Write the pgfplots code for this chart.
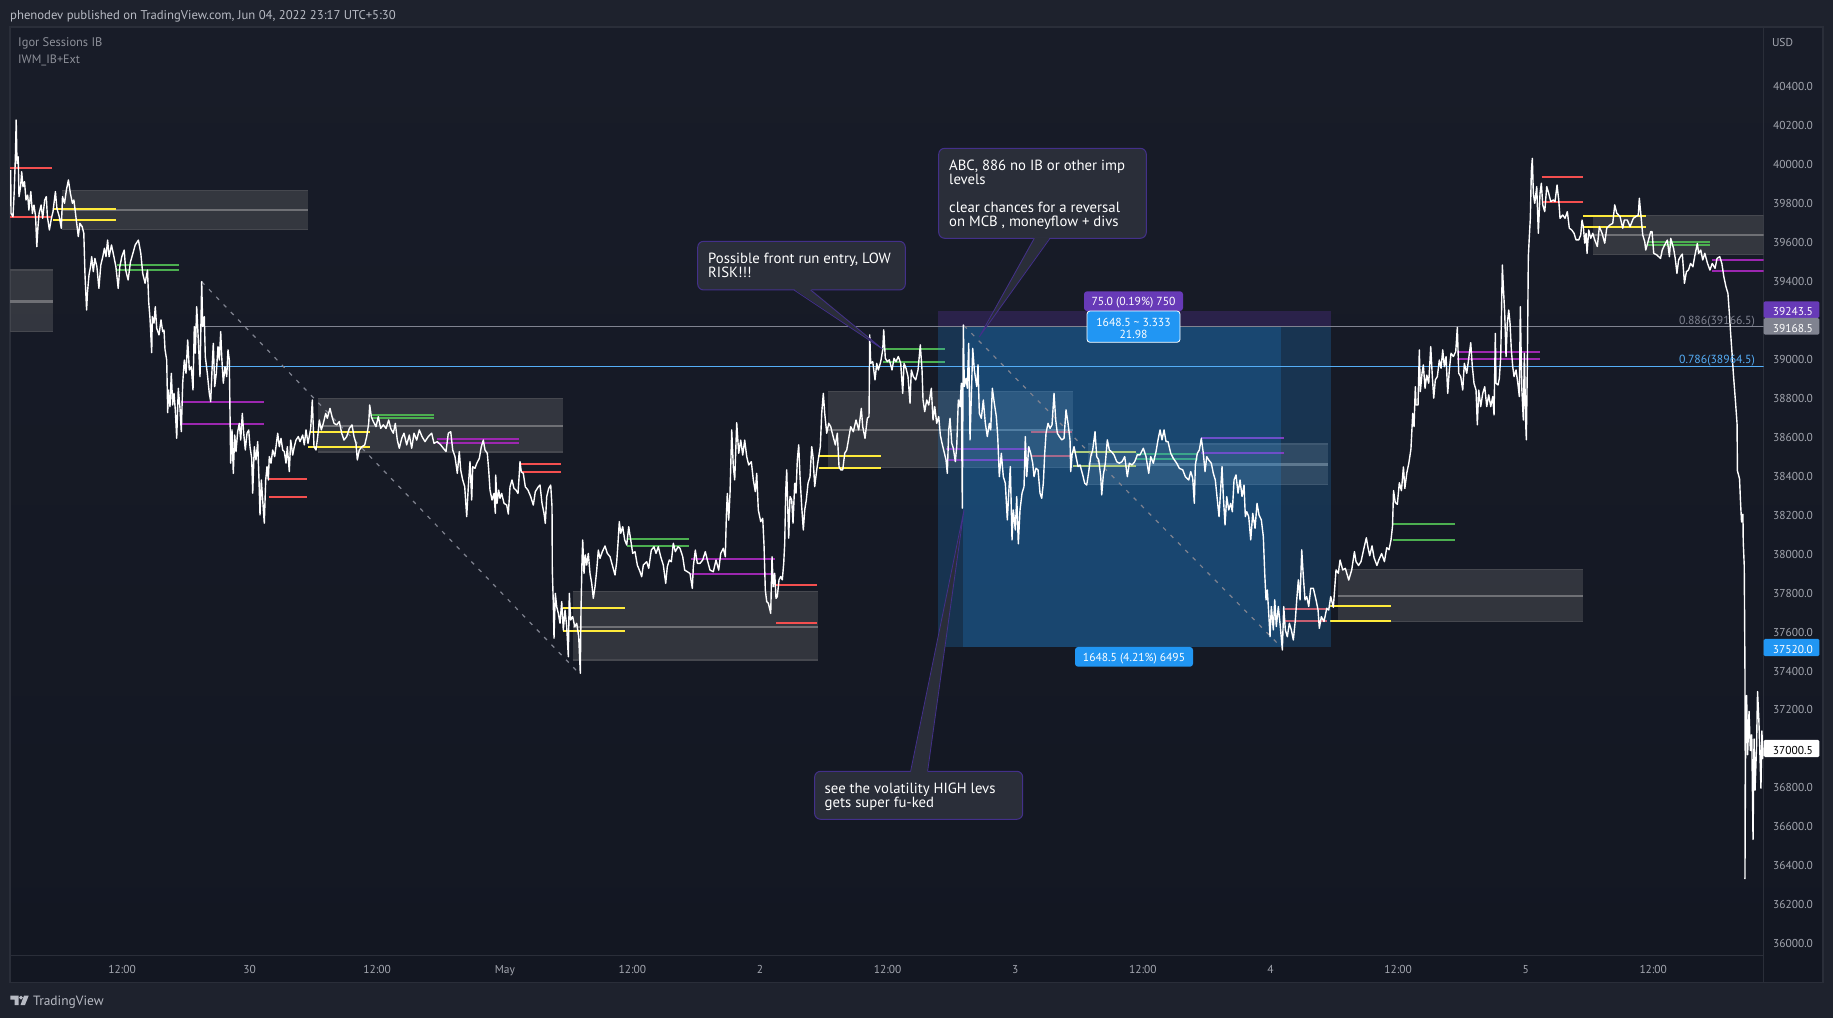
\documentclass[border=0pt]{standalone}
\usepackage{fontspec}
\setmainfont{PT Sans}
\usepackage{pgfplots}
\pgfplotsset{compat=1.18}
\definecolor{outerbg}{HTML}{1E222D}
\definecolor{panetop}{HTML}{181C28}
\definecolor{panebot}{HTML}{131722}
\definecolor{sep}{HTML}{2A2E39}
\definecolor{ticktxt}{HTML}{A3A6AF}
\definecolor{hdr}{HTML}{B8BBC4}
\definecolor{legtxt}{HTML}{8D9099}
\definecolor{boxfill}{HTML}{808080}
\definecolor{boxline}{HTML}{46484F}
\definecolor{midline}{HTML}{6F7075}
\definecolor{yel}{HTML}{FFEB3B}
\definecolor{grn}{HTML}{4CAF50}
\definecolor{pur}{HTML}{9C27B0}
\definecolor{rd}{HTML}{F44F4F}
\definecolor{fibgray}{HTML}{808390}
\definecolor{fibblue}{HTML}{55AEF7}
\definecolor{tvblue}{HTML}{2196F3}
\definecolor{tvpur}{HTML}{673AB7}
\definecolor{callfill}{HTML}{2A2E39}
\definecolor{callline}{HTML}{43308A}
\begin{document}
\begin{tikzpicture}
\begin{scope}[x=1bp,y=-1bp,shift={(0bp,1018bp)}]
\fill[outerbg] (0,0) rectangle (1833,1018);
\shade[top color=panetop,bottom color=panebot] (10,27) rectangle (1823,982.6);
\draw[sep,line width=1.2bp] (10,27) rectangle (1823,982.6);
\draw[sep,line width=1bp] (1763.6,955) -- (1763.6,982.6);
\end{scope}
\begin{axis}[
  at={(10bp,63bp)},anchor=south west,scale only axis,
  width=1753.6bp,height=928bp,
  xmin=10,xmax=1763.6,ymin=35935.3,ymax=40701.5,
  axis line style={draw=sep,line width=1bp},
  unbounded coords=jump,
  major tick length=0pt,
  xtick={122,249.6,377.2,504.8,632.4,760,887.6,1015.2,1142.8,1270.4,1398,1525.6,1653.2},
  xticklabels={12:00,30,12:00,May,12:00,2,12:00,3,12:00,4,12:00,5,12:00},
  ytick={36000,36200,36400,36600,36800,37000,37200,37400,37600,37800,38000,38200,38400,38600,38800,39000,39200,39400,39600,39800,40000,40200,40400},
  yticklabel pos=right,
  scaled y ticks=false,
  /pgf/number format/.cd,fixed,fixed zerofill,precision=1,1000 sep={},assume math mode=true,
  /pgfplots/.cd,
  xticklabel style={text=ticktxt,font=\fontsize{11.5}{13}\selectfont,anchor=base,yshift=-18.2bp,inner sep=0pt},
  yticklabel style={text=ticktxt,font=\fontsize{11.5}{13}\selectfont,anchor=east,xshift=49.5bp,yshift=-1.2bp,inner sep=0pt},
]
% IB boxes
\addplot[fill=boxfill,fill opacity=.28,draw=none] coordinates {(62,39861)(307.6,39861)(307.6,39662)(62,39662)} -- cycle;
\addplot[fill=boxfill,fill opacity=.28,draw=none] coordinates {(10,39453)(52.6,39453)(52.6,39136)(10,39136)} -- cycle;
\addplot[fill=boxfill,fill opacity=.28,draw=none] coordinates {(317.5,38795)(562.7,38795)(562.7,38519)(317.5,38519)} -- cycle;
\addplot[fill=boxfill,fill opacity=.28,draw=none] coordinates {(572.7,37801)(817.8,37801)(817.8,37450)(572.7,37450)} -- cycle;
\addplot[fill=boxfill,fill opacity=.28,draw=none] coordinates {(827.6,38828)(1072.7,38828)(1072.7,38440)(827.6,38440)} -- cycle;
\addplot[fill=boxfill,fill opacity=.28,draw=none] coordinates {(1088,38560)(1328,38560)(1328,38353)(1088,38353)} -- cycle;
\addplot[fill=boxfill,fill opacity=.28,draw=none] coordinates {(1338,37915)(1583,37915)(1583,37648)(1338,37648)} -- cycle;
\addplot[fill=boxfill,fill opacity=.28,draw=none] coordinates {(1593,39732)(1763.6,39732)(1763.6,39534)(1593,39534)} -- cycle;
\addplot[boxline,line width=1.3bp] coordinates {(62,39861)(307.6,39861)(307.6,nan)(62,39662)(307.6,39662)(307.6,nan)(10,39453)(52.6,39453)(52.6,nan)(10,39136)(52.6,39136)(52.6,nan)(317.5,38795)(562.7,38795)(562.7,nan)(317.5,38519)(562.7,38519)(562.7,nan)(572.7,37801)(817.8,37801)(817.8,nan)(572.7,37450)(817.8,37450)(817.8,nan)(827.6,38828)(1072.7,38828)(1072.7,nan)(827.6,38440)(1072.7,38440)(1072.7,nan)(1088,38560)(1328,38560)(1328,nan)(1088,38353)(1328,38353)(1328,nan)(1338,37915)(1583,37915)(1583,nan)(1338,37648)(1583,37648)(1583,nan)(1593,39732)(1763.6,39732)(1763.6,nan)(1593,39534)(1763.6,39534)};
\addplot[midline,line width=2.2bp] coordinates {(62,39760)(307.6,39760)(307.6,nan)(10,39292)(52.6,39292)(52.6,nan)(317.5,38651)(562.7,38651)(562.7,nan)(572.7,37621)(817.8,37621)(817.8,nan)(827.6,38630)(1072.7,38630)(1072.7,nan)(1088,38455)(1328,38455)(1328,nan)(1338,37780)(1583,37780)(1583,nan)(1593,39632)(1763.6,39632)};
% session levels
\addplot[yel,line width=2.1bp] coordinates {(52.6,39768)(115.5,39768)(115.5,nan)(52.6,39712)(115.5,39712)(115.5,nan)(310,38620)(370,38620)(370,nan)(308,38544)(370,38544)(370,nan)(563,37716)(625,37716)(625,nan)(563,37601)(625,37601)(625,nan)(818.7,38500)(881,38500)(881,nan)(818.7,38438)(881,38438)(881,nan)(1073,38520)(1135.6,38520)(1135.6,nan)(1073,38448)(1135.6,38448)(1135.6,nan)(1330,37728)(1391,37728)(1391,nan)(1330,37650)(1391,37650)(1391,nan)(1583,39732)(1646,39732)(1646,nan)(1583,39674)(1646,39674)};
\addplot[grn,line width=2.1bp] coordinates {(116.6,39479)(179,39479)(179,nan)(116.6,39455)(179,39455)(179,nan)(370.8,38710)(434,38710)(434,nan)(370.8,38692)(434,38692)(434,nan)(626.7,38072)(689,38072)(689,nan)(626.7,38037)(689,38037)(689,nan)(883.4,39049)(944.5,39049)(944.5,nan)(883.4,38982)(944.5,38982)(944.5,nan)(1135.6,38510)(1198,38510)(1198,nan)(1135.6,38483)(1198,38483)(1198,nan)(1392.5,38148)(1455,38148)(1455,nan)(1392.5,38065)(1455,38065)(1455,nan)(1647.6,39599)(1709.9,39599)(1709.9,nan)(1647.6,39583)(1709.9,39583)};
\addplot[pur,line width=2.1bp] coordinates {(181,38777)(264,38777)(264,nan)(181,38662)(264,38662)(264,nan)(436.8,38584)(519,38584)(519,nan)(436.8,38566)(519,38566)(519,nan)(690.5,37968)(774.5,37968)(774.5,nan)(690.5,37892)(774.5,37892)(774.5,nan)(946,38534)(1028.5,38534)(1028.5,nan)(946,38476)(1028.5,38476)(1028.5,nan)(1201,38591)(1284,38591)(1284,nan)(1201,38512)(1284,38512)(1284,nan)(1457,39031)(1540,39031)(1540,nan)(1457,38995)(1540,38995)(1540,nan)(1711.6,39505)(1763.6,39505)(1763.6,nan)(1711.6,39450)(1763.6,39450)};
\addplot[rd,line width=2.1bp] coordinates {(10,39979)(52,39979)(52,nan)(10,39724)(52,39724)(52,nan)(268.8,38382)(306.8,38382)(306.8,nan)(268.8,38288)(306.8,38288)(306.8,nan)(521,38459)(561,38459)(561,nan)(521,38414)(561,38414)(561,nan)(776,37837)(817,37837)(817,nan)(776,37642)(817,37642)(817,nan)(1030.7,38620)(1071.8,38620)(1071.8,nan)(1030.7,38500)(1071.8,38500)(1071.8,nan)(1285,37712)(1327,37712)(1327,nan)(1285,37649)(1327,37649)(1327,nan)(1541.5,39933)(1583,39933)(1583,nan)(1541.5,39803)(1583,39803)};
% position tool
\addplot[fill=tvpur,fill opacity=.25,draw=none] coordinates {(937.9,39243)(1331,39243)(1331,39162)(937.9,39162)} -- cycle;
\addplot[fill=tvblue,fill opacity=.21,draw=none] coordinates {(937.9,39162)(1331,39162)(1331,37517)(937.9,37517)} -- cycle;
\addplot[fill=tvblue,fill opacity=.2,draw=none] coordinates {(962.9,39162)(1280.7,39162)(1280.7,37517)(962.9,37517)} -- cycle;
% fib
\addplot[fibgray,line width=1.1bp] coordinates {(202,39162)(1763.6,39162)};
\addplot[fibblue,line width=1.1bp] coordinates {(201,38959)(1763.6,38959)};
\addplot[fibgray,line width=1.2bp,dash pattern=on 4bp off 6.5bp] coordinates {(201.7,39393)(580,37377)};
\addplot[fibgray,line width=1.2bp,dash pattern=on 4bp off 6.5bp] coordinates {(964,39167)(1280.7,37519)};
% price
\addplot[white,line width=1.4bp,line join=round] coordinates {
(10.7,39967)(11,39744)(13,39727)(14.2,39856)(15.4,40035)(16.2,40224)(17,40001)(18.2,40035)(19,39830)(20.6,39881)(21.7,39958)(23,39881)(24.5,39907)(26,39813)(27.7,39838)(28.9,39761)(30.8,39856)(32.4,39744)(34,39787)(35.6,39727)(36.8,39573)(38,39676)(39.1,39744)(41.1,39787)(42.7,39719)(44.7,39813)(46.3,39830)(47.4,39727)(49.4,39659)(51.4,39719)(53,39753)(55.4,39856)(56.9,39770)(59.3,39727)(61.3,39667)(62.5,39830)(64.5,39796)(66.4,39864)(68.4,39916)(70.4,39847)(72.4,39796)(73.9,39813)(75.9,39727)(78.3,39625)(79.9,39693)(82.2,39676)(83.8,39642)(85,39428)(86.6,39248)(87.4,39333)(89,39428)(90.5,39470)(91.7,39522)(93.3,39445)(94.9,39513)(96.9,39470)(98.9,39359)(100.8,39479)(102.8,39522)(104.4,39565)(106,39522)(107.6,39607)(109.1,39522)(111.5,39582)(113.9,39522)(115.9,39470)(118.2,39359)(119.8,39470)(121.8,39522)(124.2,39556)(125.7,39453)(128.1,39402)(130.5,39496)(132.9,39539)(135.2,39582)(138.4,39607)(140.8,39539)(142.7,39436)(145.1,39385)(147.5,39453)(148.7,39291)(150,39205)
(151.7,39029)(152.3,39214)(154,39180)(155.3,39265)(156.7,39154)(159,39120)(161,39197)(162.7,39137)(164,39145)(165,39046)(166.7,38991)(167.7,38721)(168.3,38837)(170,38752)(171.3,38923)(172.7,38760)(174,38820)(175.3,38735)(176.7,38589)(178.3,38846)(180,38743)(181.3,38623)(182.7,38872)(184.3,38991)(186,38923)(187.7,39094)(189.3,38940)(191.3,38957)(193,38837)(194.3,39163)(195.3,39026)(196.7,39265)(198.3,39094)(200,38906)(201.7,39394)(202.7,39163)(204.3,39214)(205.3,39009)(207.3,38923)(209.3,38820)(210.7,38777)(212,38940)(213.3,39077)(214.7,38854)(216.3,38923)(218,39060)(219.3,38991)(220.7,39137)(221.7,39009)(223.3,38872)(225,38957)(226.7,38906)(228,39043)(229.3,38991)(230,38717)(230.7,38461)(232,38632)(233.3,38409)(234.7,38606)(236,38521)(237.7,38623)(239.3,38666)(240.7,38580)(242.3,38717)(243.7,38615)(245.3,38529)(247,38615)(248.7,38632)(250,38546)(251.7,38486)(252.7,38307)(254.3,38546)(256,38478)(257.7,38572)(259,38375)(260,38195)(261.3,38375)(262.7,38272)(264.3,38153)(265.7,38375)(267,38444)(268.3,38375)(269.3,38495)(271,38461)(272.7,38529)(274.7,38495)(276,38546)(277.7,38615)(279.3,38546)(281,38589)(282.7,38529)(284.3,38521)(286,38461)(287.3,38546)(289.3,38418)(290.7,38580)(292.7,38503)(294.3,38546)(296,38580)(298.3,38598)(300,38572)(302.7,38606)(304.3,38555)(306,38632)(308,38563)(310.7,38640)(312.3,38786)(314,38546)(316,38529)(317.7,38598)(319.3,38683)(321.3,38632)(323.3,38666)(325.7,38717)(327.3,38692)(330,38743)(332,38700)(334,38666)(336.7,38658)(339.3,38675)(341.7,38615)(344,38580)(346.7,38598)(349.3,38640)(352,38658)(354,38598)(356,38563)(357.3,38478)(359.3,38529)(362,38546)(364.7,38555)(366.7,38598)(368.7,38666)(369.7,38760)(371.3,38700)(373.3,38675)(376,38649)(378.3,38700)(380.7,38640)(383.3,38658)(386,38640)(388.7,38683)(390.7,38640)(393.3,38615)(395.3,38666)(397.3,38580)(399.3,38538)(401.7,38589)(404,38615)(406.7,38555)(409.3,38606)(411.7,38538)(414,38615)(416.7,38580)(419.3,38632)(422,38598)(425,38572)(428.3,38598)(431.7,38615)(434,38563)(437.3,38572)(440.7,38555)(443.3,38538)(446,38521)(448.3,38615)(450.7,38623)(452.7,38529)(455,38495)(457.3,38409)(459.3,38521)(460.7,38426)(462.7,38375)(464.7,38341)(466.7,38187)(468.3,38341)
(470,38469)(471.7,38272)(472.7,38443)(475,38435)(476.7,38460)(479.3,38486)(481.3,38546)(483.3,38580)(485,38529)(487.3,38512)(488.7,38426)(490,38323)(492,38272)(494,38306)(495.3,38204)(495.7,38400)(497,38255)(498.7,38323)(500,38281)(501.7,38306)(504,38255)(506.7,38246)(508.3,38200)(510,38340)(512,38375)(514,38332)(516,38323)(518,38306)(519.3,38409)(520,38469)(521.3,38417)(523.3,38409)(525.3,38340)(528,38323)(530.7,38289)(533.3,38246)(535.3,38315)(538.3,38340)(540,38349)(542,38255)(544,38204)(545.3,38152)(546.7,38289)(548.7,38332)(550.7,38349)(552,38238)(552.3,37913)(553.3,37741)(554,37562)(555.3,37793)(556.7,37724)(558.3,37690)(560,37639)(561.7,37750)(563.3,37604)(565,37707)(566.7,37621)(568.3,37467)(569.3,37793)(570.7,37656)(572.7,37673)(574.7,37621)(576.7,37639)(578.7,37570)(580.3,37382)(581,37707)(582,37964)(582.7,38067)(584,37895)(585.3,37990)(586.7,37938)(588.3,37998)(590,37895)(591.7,37844)(593.3,37767)(595,37827)(596.7,37912)(598.3,38015)(600,37972)(602.3,38007)(605,38036)(607.3,37998)(610,37981)(612.7,37930)(615,37887)(616.7,37955)(618,38050)(619.3,38161)(620.7,38101)(622.7,38135)(624.7,38067)(626.7,38041)(628.7,38135)(630.7,38067)(632.7,37998)(635,38007)(637.3,37938)(640,37904)(641.7,37878)(643.3,37938)(646.7,37955)(648.7,37921)(651.3,38015)(654,38032)(656,37998)(658.3,38032)(660.7,37981)(663.3,37938)(665.7,37844)(667.3,37930)(669.3,37964)(671.3,37955)(673.3,38050)(675.3,38007)(678,38032)(680,38024)(682.7,37981)(684.7,37912)(687.3,37904)(690,37895)(692.3,37818)(693.3,37930)(695.3,38015)(697.3,37947)(700,37947)(702.7,37964)(705.3,38007)(707.3,37964)(710,37912)(713.3,37904)(716,37964)(718.7,37912)(720.7,37998)(723.3,38024)(725.3,37981)(726.3,38186)(727.3,38306)(728.7,38169)(730,38306)(731.7,38632)(733.3,38443)(734.7,38375)(736.7,38669)(738.7,38512)(740.7,38580)(742.7,38503)(744.7,38580)(746.7,38495)(748.7,38452)(751.3,38469)(753.3,38375)(755.3,38315)(756.7,38409)(758.3,38221)(760.7,38161)(762.7,38178)(764,38041)(765.3,37810)(766.7,37750)(768.3,37742)(770.7,37690)
(772,37981)(773.3,37827)(774.7,37896)(776,37767)(777.3,37776)(779,37862)(780.7,37879)(782.3,37862)(783.7,37947)(784.7,38050)(785.7,38315)(786.7,38427)(787.7,38238)(788.7,38076)(790,38290)(791.7,38273)(793,38153)(794.7,38358)(796,38307)(797.3,38478)(798.7,38555)(800,38392)(801.7,38238)(803.3,38118)(804.7,38221)(806.3,38273)(808,38358)(810,38392)(811.7,38546)(813,38495)(814.7,38341)(816.7,38427)(818.7,38495)(820.3,38546)(821.7,38718)(823.3,38820)(824.7,38718)(826.7,38615)(828.7,38666)(830.7,38649)(832.7,38606)(835.3,38555)(837.3,38615)(839,38444)(840.7,38427)(842.7,38427)(844.7,38512)(846.7,38529)(848.7,38589)(850.7,38649)(853.3,38623)(856,38683)(858.7,38632)(861.3,38743)(862.7,38649)(865,38589)(867.3,38692)(869,38700)(869.7,39120)(870.7,38974)(872.7,38983)(875,38889)(876.7,38974)(878.3,38940)(880.7,38983)(882.7,39043)(883.7,39146)(885.3,39000)(887.3,38983)(889.3,38992)(892,38940)(894,39000)(896,38983)(898.3,39009)(900.7,38974)(902.7,38820)(904,38974)(906,38949)(908,38906)(910,38769)(911.3,38940)(913.3,38906)(915.7,38889)(918,38940)(920.3,39069)(922,38940)(923,38786)(924.7,38726)(926.7,38786)(928.7,38760)(931.3,38846)(933,38683)(934.7,38752)(936.7,38666)(938.7,38701)(940.3,38606)(942,38564)(944,38521)(946,38478)(947.3,38409)(948.7,38632)(950,38692)(951.7,38564)(953.3,38538)(955.3,38469)(956.7,38546)(958.3,38786)(960,38752)(961.3,38872)(962.3,38230)(963.3,39171)(964.3,38855)(966,38897)(967.3,38846)(968.7,39077)(970,38581)(971.3,38803)(972.7,39051)(974.3,38940)(976.7,38855)(978,38966)(979.3,38718)(981.3,38692)(983.3,38786)(985.3,38666)(987.3,38598)(989.3,38666)(990.7,38632)(992.3,38846)(994.3,38769)(996.3,38701)(997.7,38598)(999.3,38392)(1001.3,38512)(1003.3,38392)(1005.3,38358)(1007.3,38170)(1008.7,38307)(1010.3,38444)(1012,38067)(1013.3,38221)(1015.3,38118)(1016.7,38290)(1018.3,38047)(1020,38221)(1022,38307)(1024,38341)(1025.3,38598)(1026.7,38392)(1028.7,38546)(1030.7,38512)(1032.7,38461)(1034,38392)(1036,38435)(1038,38427)(1040,38307)(1041.7,38281)(1043.3,38358)(1044.7,38512)(1046,38615)(1048,38666)(1050,38640)(1052,38658)(1054,38820)(1055.7,38683)(1057.3,38615)(1059.3,38598)
(1061.7,38581)(1064,38589)(1066,38735)(1068,38666)(1070,38581)(1070.7,38418)(1072,38504)(1074,38546)(1076,38495)(1078,38444)(1080,38452)(1082.7,38401)(1084.7,38358)(1086.7,38349)(1088.7,38418)(1090.7,38495)(1092.7,38529)(1095,38623)(1096.7,38495)(1098.7,38478)(1100.7,38392)(1101.7,38298)(1103.3,38401)(1105.3,38461)(1107.3,38581)(1109.3,38529)(1111.3,38521)(1114,38504)(1116.7,38469)(1119.3,38461)(1122,38469)(1124.7,38495)(1127.3,38392)(1129.3,38461)(1132,38452)(1134.7,38469)(1137.3,38504)(1140,38504)(1143.3,38538)(1146,38495)(1148.7,38409)(1150.7,38495)(1153.3,38461)(1156,38521)(1158,38581)(1160,38632)(1162,38581)(1164,38632)(1166,38572)(1168,38572)(1170.7,38512)(1173.3,38486)(1176.7,38461)(1179.3,38435)(1182.7,38427)(1185.3,38392)(1188.7,38375)(1190.7,38418)(1192.7,38384)(1194.3,38255)(1195.3,38452)(1197.3,38512)(1199.3,38529)(1201.3,38589)(1203.3,38512)(1205,38418)(1206.7,38495)(1208.7,38478)(1211.3,38461)(1213.3,38409)(1215.3,38375)(1217.3,38272)(1219,38187)(1220.7,38332)(1222,38444)(1223.3,38290)(1225,38144)(1226.7,38290)(1228.7,38221)(1230.7,38255)(1232.3,38212)(1234,38375)(1236,38401)(1238,38307)(1240,38375)(1242,38290)(1244,38349)(1245.3,38187)(1246.7,38212)(1248.7,38187)(1250.7,38067)(1252.7,38204)(1255,38127)(1257,38255)(1259,38195)(1261.3,38170)(1263.3,38084)(1264.7,37896)(1266,37759)(1267.3,37810)(1268.7,37690)(1270,37570)(1271.3,37725)(1273.3,37605)(1274.7,37759)(1276.3,37622)(1278.3,37725)(1280.3,37622)(1282.3,37502)(1283.7,37725)(1285.3,37605)(1287.3,37570)(1289.3,37639)(1291.3,37605)(1293.3,37553)(1295.3,37656)(1296.7,37759)(1298.3,37862)(1300,37759)(1301.7,38016)(1303.3,37879)(1305,37759)(1306.7,37776)(1308.7,37725)(1310.7,37819)(1313.3,37819)(1316,37759)(1318,37708)(1319.3,37613)(1321.3,37673)(1324,37648)(1326.7,37716)(1328.7,37707)(1330.7,37776)(1333.3,37721)(1336,37913)(1338.3,37896)(1340,37964)(1342.7,37913)(1345.3,37921)(1348.7,37861)(1351.7,37913)(1354.4,38007)(1356,37956)(1358.5,37936)(1361,37956)(1364,38027)(1366.3,38078)(1368,38027)(1369.7,37986)(1372,38037)(1374,37976)(1376.9,37936)(1378.9,37966)(1381.6,37997)(1384.4,37956)(1386.7,38027)(1389,38017)(1391,38068)(1392.5,38138)(1393.5,38320)(1395.2,38260)(1397.3,38250)(1399.3,38361)(1401.4,38320)(1403.4,38442)(1404.8,38331)(1406.8,38412)(1408.8,38462)(1410.9,38533)(1412.7,38717)(1414,38649)(1415.3,38854)(1416,38760)(1418,38760)(1419.3,39043)(1420.3,38829)(1422,38923)(1423.3,38966)(1425,38846)(1426.7,38914)(1428.7,38872)(1430.7,39060)(1432.3,38906)(1433.7,38795)(1435.3,38889)(1437.3,38906)(1439.3,38991)(1441,38949)(1442.7,39043)(1444.3,38957)(1446,39009)(1447.7,38820)(1449.3,38940)(1451,39026)(1453.3,39009)(1455.7,39034)(1457.3,39159)(1458.7,38923)(1460.7,38906)(1462.7,38837)(1464.3,38974)(1466.7,38923)(1468.7,39000)(1470.7,39080)(1472.3,38957)(1474,38871)(1476,38837)(1477.3,38658)(1478.7,38837)(1480.7,38752)(1482.7,38820)(1484.7,38854)(1486.7,38752)(1488.7,38812)(1490.7,38752)(1492.7,38803)(1494,38709)(1495.3,39128)(1496,38872)(1498,38863)(1499.3,38897)(1500.7,39009)(1502.3,39479)(1503.3,39368)(1504.7,39231)(1506,39009)(1507.3,39180)(1508.7,39248)(1510,39180)(1511.3,39043)(1512.7,38957)(1514,38906)(1516,38940)(1518,38863)(1519.3,38803)(1520.3,39265)(1521.7,38854)(1523.3,38683)(1524.3,39026)(1525.7,38663)(1526.3,38581)(1527.3,38957)(1528.3,39522)(1529.3,39625)(1530.3,39719)(1531.3,39959)(1532.3,40027)(1533.3,39847)(1534.7,39796)(1536.7,39882)(1538.3,39642)(1540,39847)(1541.3,39899)(1542.7,39788)(1544.7,39753)(1546.7,39882)(1548.7,39847)(1550.7,39805)(1553.3,39813)(1555,39805)(1557,39890)(1558.7,39813)(1560,39719)(1562.7,39736)(1565,39719)(1567.3,39753)(1569.3,39668)(1571.7,39659)(1574,39642)(1576,39608)(1578.7,39608)(1580.7,39633)(1582,39710)(1583.3,39676)(1584.7,39591)(1586,39642)(1587,39539)(1588.7,39659)(1590.7,39616)(1592.7,39642)(1594.7,39608)(1597.3,39574)(1599.3,39676)(1602,39642)(1604.7,39591)(1606.7,39668)(1610,39685)(1612.7,39693)(1614.7,39788)(1616.7,39745)(1620,39728)(1622.7,39668)(1624.3,39710)(1627.3,39710)(1630,39676)(1633.3,39719)(1636,39728)(1638.3,39736)(1639.3,39822)(1640.7,39745)(1642.7,39633)(1644.7,39599)(1645.7,39556)(1648,39599)(1650.7,39651)(1652,39651)(1653.7,39539)(1656.7,39531)(1660.5,39513)(1662.2,39556)(1664.6,39582)(1667.3,39607)(1669.4,39522)(1670.7,39616)(1673.5,39565)(1675.2,39513)(1676.9,39436)(1678.6,39505)(1680.3,39522)(1682.3,39535)(1684.4,39385)(1686.4,39445)(1688.4,39453)(1690.5,39487)(1692.9,39470)(1694.6,39522)(1697.3,39590)(1698.6,39539)(1700.7,39556)(1702.7,39505)(1704.8,39539)(1707.5,39487)(1709.9,39453)(1712.2,39487)(1715,39462)(1717,39513)(1719.7,39522)(1721.8,39487)(1723.8,39419)(1725.9,39368)(1727.9,39333)(1729.3,39231)(1730.6,39128)(1732,39025)(1733.3,38923)(1735.4,38780)(1737,38665)(1737.4,38422)(1739.5,38381)(1740.5,38260)(1741.5,38159)(1742.9,38199)(1743.2,38057)(1744.2,37936)(1744.9,37410)(1745.2,36904)(1744.9,36327)(1745.6,37045)(1746.6,37268)(1747.6,36964)(1749,37187)(1750.3,36985)(1751.7,37066)(1753,36529)(1754,37045)(1755,36782)(1756.5,37005)(1757.5,37288)(1758.8,37147)(1759.9,36964)(1760.9,36792)(1761.9,37086)(1762.6,36944)(1763.2,37000)
};
\end{axis}
\begin{scope}[x=1bp,y=-1bp,shift={(0bp,1018bp)},every node/.append style={yshift=-1.7bp}]
% header and legend
\node[anchor=west,inner sep=0pt,text=hdr,font=\fontsize{12.75}{14}\selectfont] at (10,14.7) {phenodev published on TradingView.com, Jun 04, 2022 23:17 UTC+5:30};
\node[anchor=west,inner sep=0pt,text=legtxt,font=\fontsize{12.5}{14}\selectfont] at (18,42) {Igor Sessions IB};
\node[anchor=west,inner sep=0pt,text=legtxt,font=\fontsize{12.2}{14}\selectfont] at (18,59) {IWM\_IB+Ext};
\node[anchor=west,inner sep=0pt,text=ticktxt,font=\fontsize{11.5}{13}\selectfont] at (1771.8,40.7) {USD};
% footer
\fill[hdr] (10.3,995.7) -- (18.5,995.7) -- (18.5,1005) -- (14.5,1005) -- (14.5,999.5) -- (10.3,999.5) -- cycle;
\fill[hdr] (21,997.6) circle (1.9);
\fill[hdr] (24,995.7) -- (28.7,995.7) -- (25,1005) -- (20.5,1005) -- cycle;
\node[anchor=west,inner sep=0pt,text=hdr,font=\fontsize{13.5}{15}\selectfont] at (33,1000.7) {TradingView};
% fib labels
\node[anchor=east,inner sep=0pt,text=fibgray,font=\fontsize{11.8}{13}\selectfont] at (1755,319.7) {0.886(39166.5)};
\node[anchor=east,inner sep=0pt,text=fibblue,font=\fontsize{11.8}{13}\selectfont] at (1755,358.7) {0.786(38964.5)};
% price scale tags
\fill[tvpur,rounded corners=1.5] (1763.6,301.3) rectangle (1819.4,318);
\fill[fibgray,rounded corners=1.5] (1763.6,318) rectangle (1819.4,334.7);
\fill[tvblue,rounded corners=1.5] (1763.6,638.9) rectangle (1819.4,656.2);
\fill[white,rounded corners=1.5] (1763.6,739.8) rectangle (1819.4,757.1);
\node[anchor=east,inner sep=0pt,text=white,font=\fontsize{11.5}{13}\selectfont] at (1813,309.7) {39243.5};
\node[anchor=east,inner sep=0pt,text=white,font=\fontsize{11.5}{13}\selectfont] at (1813,326.4) {39168.5};
\node[anchor=east,inner sep=0pt,text=white,font=\fontsize{11.5}{13}\selectfont] at (1813,647.5) {37520.0};
\node[anchor=east,inner sep=0pt,text=black,font=\fontsize{11.5}{13}\selectfont] at (1813,748.5) {37000.5};
% position labels
\fill[tvpur,rounded corners=3] (1084,291.3) rectangle (1183,311);
\node[text=white,inner sep=0pt,font=\fontsize{11.7}{13}\selectfont] at (1133.5,301) {75.0 (0.19\%) 750};
\filldraw[fill=tvblue,draw=white,line width=.8bp,rounded corners=3] (1087,311) rectangle (1180,342.3);
\node[text=white,inner sep=0pt,align=center,font=\fontsize{11.7}{12.5}\selectfont] at (1133.5,326.6) {1648.5 \textasciitilde{} 3.333\\21.98};
\fill[tvblue,rounded corners=3] (1075,647) rectangle (1193,666.7);
\node[text=white,inner sep=0pt,font=\fontsize{11.6}{13}\selectfont] at (1134,656.8) {1648.5 (4.21\%) 6495};
% callouts
\filldraw[fill=callfill,draw=callline,line width=1bp,rounded corners=6] (697.7,241.3) rectangle (905.3,290);
\fill[callfill] (794,289) -- (882.5,349) -- (810.6,289) -- cycle;
\draw[callline,line width=.8bp] (794,290) -- (882.5,349) -- (810.6,290);
\node[anchor=north west,inner sep=0pt,align=left,text=white,font=\fontsize{14.8}{14}\selectfont] at (708,251) {Possible front run entry, LOW\\RISK!!!};
\filldraw[fill=callfill,draw=callline,line width=1bp,rounded corners=6] (938.7,148.3) rectangle (1146.3,238.3);
\fill[callfill] (1034.3,237.3) -- (979.4,336.7) -- (1050,237.3) -- cycle;
\draw[callline,line width=.8bp] (1034.3,238.3) -- (979.4,336.7) -- (1050,238.3);
\node[anchor=north west,inner sep=0pt,align=left,text=white,font=\fontsize{14.8}{14}\selectfont] at (949,158.5) {ABC, 886 no IB or other imp\\levels\\[14bp]clear chances for a reversal\\on MCB , moneyflow + divs};
\filldraw[fill=callfill,draw=callline,line width=1bp,rounded corners=6] (814.6,771.3) rectangle (1022.7,819.3);
\fill[callfill] (910.6,772.3) -- (964,510) -- (927.6,772.3) -- cycle;
\draw[callline,line width=.8bp] (910.6,771.3) -- (964,510) -- (927.6,771.3);
\node[anchor=north west,inner sep=0pt,align=left,text=white,font=\fontsize{14.8}{14}\selectfont] at (824.5,781) {see the volatility HIGH levs\\gets super fu-ked};
\end{scope}
\end{tikzpicture}
\end{document}
